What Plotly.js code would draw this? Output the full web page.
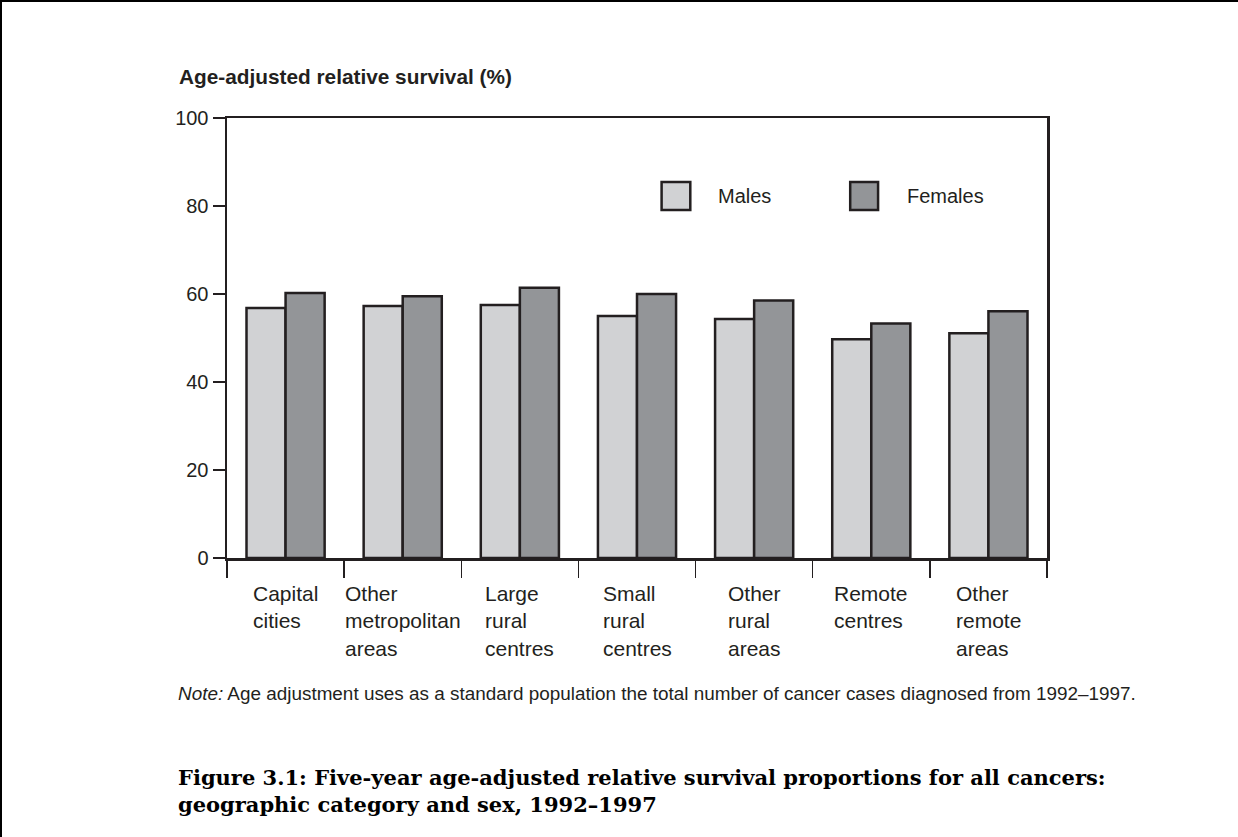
<!DOCTYPE html>
<html>
<head>
<meta charset="utf-8">
<script src="https://cdn.plot.ly/plotly-3.0.1.min.js"></script>
<style>
  html, body { margin: 0; padding: 0; background: #fff; }
  #wrap { position: relative; width: 1238px; height: 837px; }
  #frame { position: absolute; left: 0; top: 0; width: 1238px; height: 837px;
           border-top: 2px solid #000; border-left: 2px solid #000; box-sizing: border-box; pointer-events: none; }
  #chart { width: 1238px; height: 837px; }
</style>
</head>
<body>
<div id="wrap">
  <div id="chart"></div>
  <div id="frame"></div>
</div>
<script>
const categories = ["Capital cities", "Other metropolitan areas", "Large rural centres", "Small rural centres", "Other rural areas", "Remote centres", "Other remote areas"];
const categoryLabels = ["Capital<br>cities", "Other<br>metropolitan<br>areas", "Large<br>rural<br>centres", "Small<br>rural<br>centres", "Other<br>rural<br>areas", "Remote<br>centres", "Other<br>remote<br>areas"];
const males = [56.8, 57.3, 57.5, 55.0, 54.3, 49.7, 51.1];
const females = [60.2, 59.5, 61.4, 60.0, 58.5, 53.3, 56.1];
const yTicks = [0, 20, 40, 60, 80, 100];
const seriesNames = ["Males", "Females"];

const ink = "#231f20";
const maleColor = "#d1d2d4";
const femaleColor = "#939598";
const font = "Liberation Sans, Arial, sans-serif";

const traces = [
  { type: "bar", name: seriesNames[0], x: categories, y: males,
    marker: { color: maleColor, line: { color: ink, width: 2.5 } }, showlegend: false, hoverinfo: "none" },
  { type: "bar", name: seriesNames[1], x: categories, y: females,
    marker: { color: femaleColor, line: { color: ink, width: 2.5 } }, showlegend: false, hoverinfo: "none" }
];

const annotations = categories.map((c, i) => ({
  x: c, y: 0, xref: "x", yref: "y", text: categoryLabels[i], showarrow: false,
  xanchor: "center", yanchor: "top", align: "left", yshift: -22,
  font: { family: font, size: 21, color: ink }
}));

annotations.push(
  { xref: "paper", yref: "paper", x: -0.061, y: 1.095, xanchor: "left", yanchor: "middle", showarrow: false,
    text: "<b>Age-adjusted relative survival (%)</b>", font: { family: font, size: 20.8, color: ink } },
  { xref: "paper", yref: "paper", x: 0.596, y: 0.823, xanchor: "left", yanchor: "middle", showarrow: false,
    text: seriesNames[0], font: { family: font, size: 20, color: ink } },
  { xref: "paper", yref: "paper", x: 0.827, y: 0.823, xanchor: "left", yanchor: "middle", showarrow: false,
    text: seriesNames[1], font: { family: font, size: 20, color: ink } },
  { xref: "paper", yref: "paper", x: -0.0622, y: -0.309, xanchor: "left", yanchor: "middle", showarrow: false,
    text: "<i>Note:</i> Age adjustment uses as a standard population the total number of cancer cases diagnosed from 1992–1997.",
    font: { family: font, size: 18.9, color: ink } },
  { xref: "paper", yref: "paper", x: -0.0622, y: -0.53, xanchor: "left", yanchor: "middle", showarrow: false, align: "left",
    text: "<b>Figure 3.1: Five-year age-adjusted relative survival proportions for all cancers:<br>geographic category and sex, 1992–1997</b>",
    font: { family: "DejaVu Serif, serif", size: 21, color: "#000" } }
);

const shapes = [
  { type: "rect", xref: "paper", yref: "paper", x0: 0.530, x1: 0.565, y0: 0.791, y1: 0.8545,
    fillcolor: maleColor, line: { color: ink, width: 2.5 } },
  { type: "rect", xref: "paper", yref: "paper", x0: 0.760, x1: 0.794, y0: 0.791, y1: 0.8545,
    fillcolor: femaleColor, line: { color: ink, width: 2.5 } }
];

const layout = {
  width: 1238, height: 837,
  margin: { l: 227, r: 191, t: 118, b: 279 },
  paper_bgcolor: "#fff", plot_bgcolor: "#fff",
  barmode: "group", bargap: 0.333, bargroupgap: 0,
  font: { family: font, color: ink },
  xaxis: {
    type: "category", range: [-0.5, 6.5], showticklabels: false,
    ticks: "outside", tickson: "boundaries", ticklen: 17, tickwidth: 1.5, tickcolor: ink,
    showline: true, linecolor: ink, linewidth: 2.5, mirror: true, showgrid: false, zeroline: false
  },
  yaxis: {
    range: [0, 100], tickvals: yTicks, ticktext: yTicks.map(String),
    ticks: "outside", ticklen: 12, tickwidth: 1.5, tickcolor: ink,
    tickfont: { family: font, size: 20, color: ink },
    showline: true, linecolor: ink, linewidth: 2.5, mirror: true, showgrid: false, zeroline: false
  },
  annotations: annotations,
  shapes: shapes
};

Plotly.newPlot("chart", traces, layout, { displayModeBar: false, staticPlot: true });
</script>
</body>
</html>
